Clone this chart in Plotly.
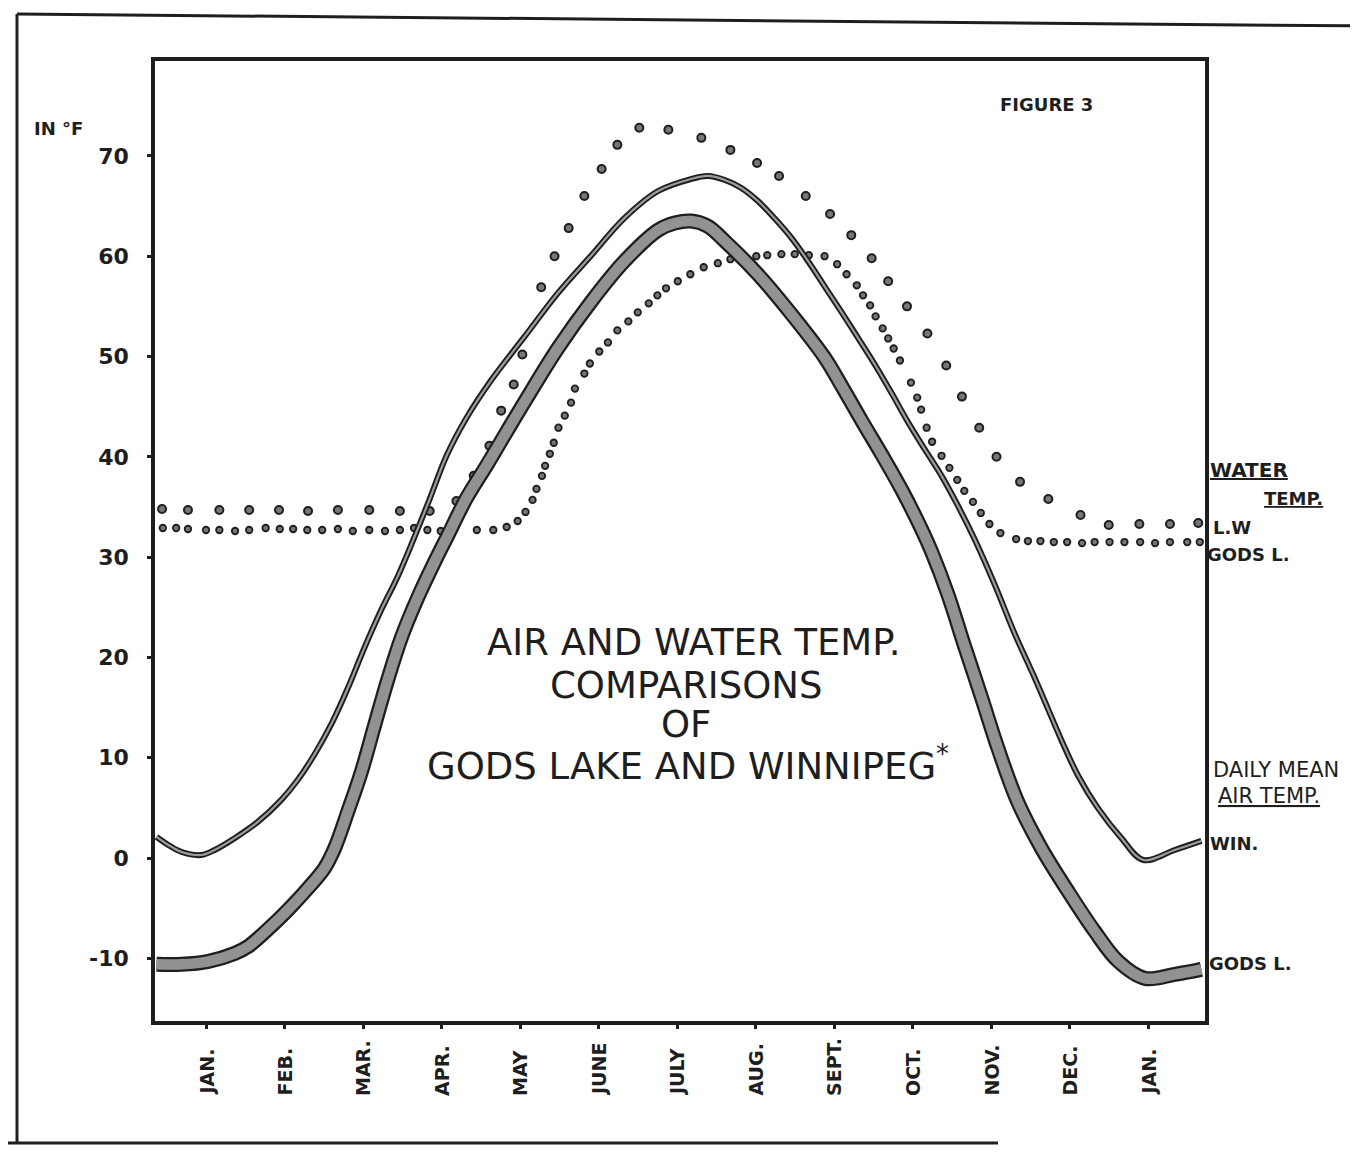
import plotly.graph_objects as go

# ---------------- data (month index: 0 = JAN ... 12 = next JAN; temperature in °F) -------------
months = ["JAN.", "FEB.", "MAR.", "APR.", "MAY", "JUNE", "JULY", "AUG.", "SEPT.", "OCT.", "NOV.", "DEC.", "JAN."]
month_pos = list(range(13))
y_ticks = [-10, 0, 10, 20, 30, 40, 50, 60, 70]

# Daily mean air temperature - Winnipeg
win_air_month = [-0.63, -0.48, -0.31, -0.06, 0.11, 0.37, 0.66, 0.96, 1.17, 1.38, 1.60, 1.81, 2.02, 2.23,
                 2.45, 2.82, 3.07, 3.32, 3.63, 4.06, 4.48, 4.91, 5.33, 5.76, 6.18, 6.39, 6.61,
                 6.82, 7.03, 7.24, 7.46, 7.67, 7.88, 8.09, 8.31, 8.52, 8.73, 8.94, 9.16, 9.37, 9.58,
                 9.79, 10.05, 10.30, 10.56, 10.73, 10.90, 11.11, 11.36, 11.66, 11.94, 12.34, 12.68]
win_air_temp = [2.1, 1.3, 0.6, 0.3, 0.8, 2.0, 3.6, 5.8, 7.8, 10.3, 13.4, 17.0, 21.0, 24.7, 28.2,
                35.2, 40.2, 43.9, 47.6, 52.0, 56.3, 60.1, 63.8, 66.5, 67.7, 68.0, 67.6, 66.8, 65.5,
                63.8, 61.8, 59.5, 57.0, 54.5, 51.8, 49.2, 46.4, 43.5, 40.7, 38.1, 35.1, 31.8, 27.2,
                22.4, 17.9, 14.8, 11.7, 8.2, 5.0, 2.0, -0.2, 0.8, 1.7]

# Daily mean air temperature - Gods Lake
gods_air_month = [-0.63, -0.31, 0.03, 0.37, 0.54, 0.79, 1.04, 1.30, 1.51, 1.64, 1.81, 1.98, 2.15, 2.32,
                  2.49, 2.70, 2.91, 3.07, 3.32, 3.58, 3.83, 4.06, 4.48, 4.91, 5.33, 5.76, 5.97, 6.18,
                  6.39, 6.61, 7.03, 7.46, 7.88, 8.11, 8.36, 8.61, 8.87, 9.12, 9.24, 9.45, 9.66, 9.88,
                  10.09, 10.34, 10.64, 10.98, 11.32, 11.62, 11.96, 12.34, 12.68]
gods_air_temp = [-10.6, -10.6, -10.3, -9.5, -8.8, -7.1, -5.2, -3.0, -1.0, 1.0, 4.7, 8.6, 13.3, 17.9,
                 22.0, 26.0, 29.5, 32.0, 35.9, 39.2, 42.5, 45.5, 50.8, 55.5, 59.5, 62.6, 63.3, 63.5,
                 63.0, 61.5, 58.2, 54.2, 49.9, 46.9, 43.5, 40.2, 36.6, 32.7, 30.6, 26.3, 21.2, 16.0,
                 10.9, 5.6, 1.0, -3.3, -7.3, -10.3, -12.0, -11.6, -11.1]

# Water temperature - Lake Winnipeg (L.W)
lw_water_month = [-0.56, -0.23, 0.17, 0.55, 0.93, 1.30, 1.68, 2.08, 2.47, 2.85, 3.19, 3.41, 3.61, 3.76,
                  3.92, 4.03, 4.27, 4.44, 4.62, 4.82, 5.04, 5.24, 5.52, 5.89, 6.31, 6.68, 7.02, 7.30,
                  7.64, 7.95, 8.22, 8.48, 8.69, 8.93, 9.19, 9.43, 9.63, 9.85, 10.07, 10.37, 10.73,
                  11.14, 11.50, 11.89, 12.28, 12.64]
lw_water_temp = [34.8, 34.7, 34.7, 34.7, 34.7, 34.6, 34.7, 34.7, 34.6, 34.6, 35.6, 38.1, 41.1, 44.6,
                 47.2, 50.2, 56.9, 60.0, 62.8, 66.0, 68.7, 71.1, 72.8, 72.6, 71.8, 70.6, 69.3, 68.0,
                 66.0, 64.2, 62.1, 59.8, 57.5, 55.0, 52.3, 49.1, 46.0, 42.9, 40.0, 37.5, 35.8, 34.2,
                 33.2, 33.3, 33.3, 33.4]

# Water temperature - Gods Lake
gods_water_month = [-0.55, -0.38, -0.23, 0.00, 0.17, 0.37, 0.55, 0.76, 0.94, 1.11, 1.29, 1.48, 1.68,
                    1.87, 2.08, 2.28, 2.47, 2.65, 2.82, 2.99,
                    3.45, 3.66, 3.83, 3.97, 4.07, 4.16, 4.21, 4.28, 4.32, 4.38, 4.43, 4.49, 4.57, 4.65,
                    4.70, 4.82, 4.89, 5.01, 5.12, 5.24, 5.38, 5.50, 5.64, 5.75, 5.86, 6.01, 6.17, 6.34,
                    6.52, 6.68, 6.85, 7.01, 7.15, 7.33, 7.50, 7.68, 7.88, 8.04, 8.16, 8.29, 8.37, 8.46,
                    8.53, 8.62, 8.69, 8.76, 8.84, 8.98, 9.06, 9.11, 9.18, 9.25, 9.37, 9.47, 9.57, 9.66,
                    9.77, 9.87, 9.98, 10.12, 10.32, 10.47, 10.63, 10.80, 10.97, 11.16, 11.32, 11.51,
                    11.70, 11.90, 12.09, 12.28, 12.50, 12.66]
gods_water_temp = [32.9, 32.9, 32.8, 32.7, 32.7, 32.6, 32.7, 32.9, 32.8, 32.8, 32.7, 32.7, 32.8, 32.6,
                   32.7, 32.6, 32.7, 32.9, 32.7, 32.6,
                   32.7, 32.7, 33.0, 33.6, 34.5, 35.7, 36.8, 38.1, 39.1, 40.3, 41.4, 42.9, 44.1, 45.4,
                   46.8, 48.3, 49.3, 50.5, 51.4, 52.6, 53.5, 54.4, 55.3, 56.1, 56.8, 57.5, 58.2, 58.9,
                   59.3, 59.7, 59.9, 60.0, 60.1, 60.2, 60.2, 60.1, 60.0, 59.2, 58.2, 57.1, 56.1, 55.1,
                   54.0, 52.8, 51.8, 50.8, 49.6, 47.4, 45.9, 44.7, 42.9, 41.5, 40.1, 38.9, 37.7, 36.6,
                   35.5, 34.4, 33.3, 32.4, 31.8, 31.6, 31.6, 31.5, 31.5, 31.4, 31.5, 31.5, 31.5, 31.5,
                   31.4, 31.5, 31.5, 31.5]

assert len(win_air_month) == len(win_air_temp)
assert len(gods_air_month) == len(gods_air_temp)
assert len(lw_water_month) == len(lw_water_temp)
assert len(gods_water_month) == len(gods_water_temp)

# ---------------- styling -------------
INK = "#1e1e1e"
GRAY = "#929292"
FONT = "DejaVu Sans"

# plot-area geometry in pixels (used to place free text in paper coordinates)
W, H = 1358, 1154
L, R, T, B = 147, 1197, 53, 1013


def px(x):
    return (x - L) / (R - L)


def py(y):
    return (B - y) / (B - T)


fig = go.Figure()

# water temperature dots
fig.add_trace(go.Scatter(x=gods_water_month, y=gods_water_temp, mode="markers",
                         marker=dict(size=6.5, color="#777777", line=dict(color=INK, width=1.8)),
                         hoverinfo="skip", showlegend=False))
fig.add_trace(go.Scatter(x=lw_water_month, y=lw_water_temp, mode="markers",
                         marker=dict(size=8, color="#777777", line=dict(color=INK, width=2)),
                         hoverinfo="skip", showlegend=False))

SM = 1.0
# Gods Lake air temperature (thick band)
fig.add_trace(go.Scatter(x=gods_air_month, y=gods_air_temp, mode="lines",
                         line=dict(color=INK, width=15, shape="spline", smoothing=SM),
                         hoverinfo="skip", showlegend=False))
fig.add_trace(go.Scatter(x=gods_air_month, y=gods_air_temp, mode="lines",
                         line=dict(color=GRAY, width=10.5, shape="spline", smoothing=SM),
                         hoverinfo="skip", showlegend=False))

# Winnipeg air temperature (thin double line)
fig.add_trace(go.Scatter(x=win_air_month, y=win_air_temp, mode="lines",
                         line=dict(color=INK, width=6, shape="spline", smoothing=SM),
                         hoverinfo="skip", showlegend=False))
fig.add_trace(go.Scatter(x=win_air_month, y=win_air_temp, mode="lines",
                         line=dict(color="#9c9c9c", width=2.2, shape="spline", smoothing=SM),
                         hoverinfo="skip", showlegend=False))

# axis ranges from the pixel geometry: month 0 at x=198, 78.5 px/month; 0°F at y=850, 10.03 px/°F
x_range = [(L - 198) / 78.5, (R - 198) / 78.5]
y_range = [(850 - B) / 10.03, (850 - T) / 10.03]

fig.update_layout(
    width=W, height=H,
    margin=dict(l=L, r=W - R, t=T, b=H - B),
    paper_bgcolor="white", plot_bgcolor="white",
    xaxis=dict(range=x_range, tickvals=month_pos, showticklabels=False, ticks="outside",
               ticklen=4, tickwidth=3, tickcolor=INK, showgrid=False, zeroline=False,
               showline=True, linecolor=INK, linewidth=3.5, mirror=True, fixedrange=True,
               automargin=False),
    yaxis=dict(range=y_range, tickvals=y_ticks, ticktext=[str(v) for v in y_ticks],
               ticks="outside", ticklen=4, tickwidth=3, tickcolor=INK, ticklabelstandoff=14,
               tickfont=dict(family=FONT, size=22, color=INK, weight="bold"),
               showgrid=False, zeroline=False, showline=True, linecolor=INK, linewidth=3.5,
               mirror=True, fixedrange=True, automargin=False),
)

annotations = []

# month labels (rotated, bottom aligned)
for m, lab in zip(month_pos, months):
    annotations.append(dict(x=m, xref="x", y=py(1090), yref="paper", text=lab, textangle=-90,
                            showarrow=False, xanchor="center", yanchor="bottom",
                            font=dict(family=FONT, size=19, color=INK, weight="bold")))


def label(text, x, y, size, anchor="left", bold=True):
    annotations.append(dict(x=px(x), y=py(y), xref="paper", yref="paper", text=text,
                            showarrow=False, xanchor=anchor, yanchor="middle",
                            font=dict(family=FONT, size=size, color=INK,
                                      weight="bold" if bold else "normal")))


label("IN °F", 50, 120, 18, anchor="center")
label("FIGURE 3", 1038, 96, 18, anchor="center")

label("AIR AND WATER TEMP.", 686, 634, 37, anchor="center", bold=False)
label("COMPARISONS", 678, 677, 37, anchor="center", bold=False)
label("OF", 678, 716, 37, anchor="center", bold=False)
label("GODS LAKE AND WINNIPEG<sup>*</sup>", 680, 755, 37, anchor="center", bold=False)

label("<u>WATER</u>", 1200, 462, 20)
label("<u>TEMP.</u>", 1254, 490, 18)
label("L.W", 1203, 519, 18)
label("GODS L.", 1197, 546, 18)
label("DAILY MEAN", 1203, 762, 21, bold=False)
label("<u>AIR TEMP.</u>", 1208, 788, 21, bold=False)
label("WIN.", 1200, 835, 18)
label("GODS L.", 1199, 955, 18)

fig.update_layout(annotations=annotations)

# outer page frame
shapes = [
    dict(type="line", xref="paper", yref="paper", x0=px(9), y0=py(6), x1=px(W), y1=py(18),
         line=dict(color=INK, width=3)),
    dict(type="line", xref="paper", yref="paper", x0=px(9), y0=py(6), x1=px(9), y1=py(1135),
         line=dict(color=INK, width=3)),
    dict(type="line", xref="paper", yref="paper", x0=px(0), y0=py(1135), x1=px(990), y1=py(1135),
         line=dict(color=INK, width=3)),
]
fig.update_layout(shapes=shapes)

fig.write_html("out.html")
